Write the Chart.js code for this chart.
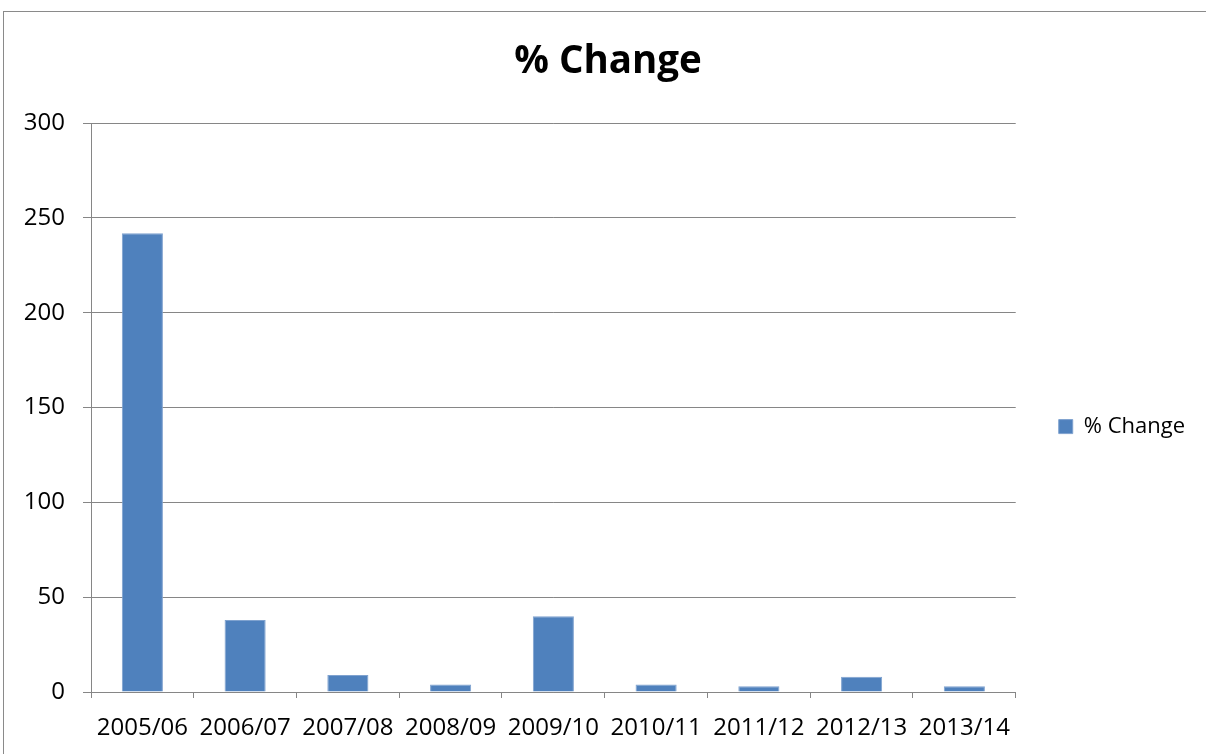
<!DOCTYPE html>
<html>
<head>
<meta charset="utf-8">
<title>% Change</title>
<script src="https://cdn.jsdelivr.net/npm/chart.js@4"></script>
<style>
  html,body{margin:0;padding:0;background:#fff;overflow:hidden;width:1206px;height:754px}
  .frame{position:absolute;left:3px;top:11px;width:1300px;height:800px;border:1px solid #8a8a8a;background:#fff}
  .frame canvas{position:absolute;left:17px;top:0}
</style>
</head>
<body>
<div class="frame"><canvas id="chart-chg" width="1174" height="740"></canvas></div>
<script>
// yearly % change
const YEARS=['2005/06','2006/07','2007/08','2008/09','2009/10','2010/11','2011/12','2012/13','2013/14'];
const CHANGE=[242,38,9,4,40,4,3,8,3];
const Y_MIN=0, Y_MAX=300, Y_STEP=50;

const FONT="'Open Sans', 'Noto Sans', sans-serif";
const GRID='#868686';

const c=document.getElementById('chart-chg');
c.style.width='1174px'; c.style.height='740px';
new Chart(c,{
  type:'bar',
  data:{labels:YEARS,datasets:[{label:'% Change',data:CHANGE,backgroundColor:'#4f81bd',borderColor:'#7fa2cf',borderWidth:1,categoryPercentage:1,barPercentage:0.4}]},
  options:{
    responsive:false,animation:false,devicePixelRatio:1,
    layout:{padding:0},
    plugins:{
      title:{display:true,text:'% Change',color:'#000',font:{family:FONT,size:38.5,weight:'bold',lineHeight:1.2},padding:{top:27,bottom:38}},
      legend:{position:'right',align:'center',
        title:{display:true,text:'',font:{size:1},padding:{top:44,bottom:44}},
        labels:{color:'#000',font:{family:FONT,size:22},boxWidth:14,boxHeight:14,padding:43}},
      tooltip:{enabled:false}
    },
    scales:{
      x:{
        grid:{display:true,drawOnChartArea:false,drawTicks:true,tickLength:6,color:GRID,offset:true},
        border:{color:GRID,width:1},
        ticks:{color:'#000',font:{family:FONT,size:24},padding:16,maxRotation:0,autoSkip:false},
        afterFit:s=>{s.height=60;}
      },
      y:{
        min:Y_MIN,max:Y_MAX,
        grid:{color:GRID,tickLength:8,lineWidth:1},
        border:{color:GRID,width:1},
        ticks:{stepSize:Y_STEP,color:'#000',font:{family:FONT,size:24},padding:18},
        afterFit:s=>{s.width=70;}
      }
    }
  }
});
</script>
</body>
</html>
